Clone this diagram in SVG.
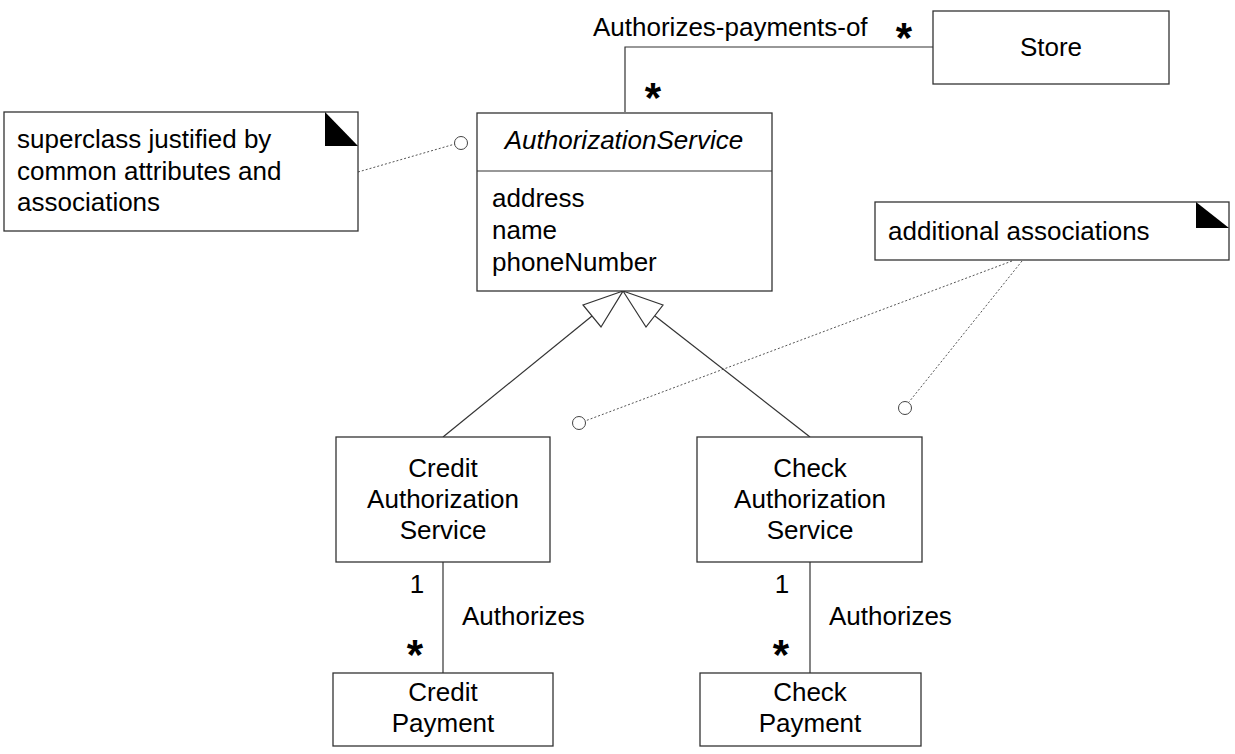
<svg xmlns="http://www.w3.org/2000/svg" width="1235" height="754" viewBox="0 0 1235 754">
<style>
text{font-family:"Liberation Sans",Arial,sans-serif;font-size:26px;fill:#000}
.c{text-anchor:middle}
.it{font-style:italic}
.star{font-size:42px;font-weight:bold;text-anchor:middle}
.box{fill:#fff;stroke:#333;stroke-width:1.3}
.line{fill:none;stroke:#333;stroke-width:1.2}
.dot{fill:none;stroke:#555;stroke-width:1;stroke-dasharray:2,2}
.circ{fill:#fff;stroke:#444;stroke-width:1}
.tri{fill:#fff;stroke:#333;stroke-width:1.2}
.fold{fill:#000}
</style>
<rect width="1235" height="754" fill="#fff"/>
<g id="connectors">
<polyline class="line" points="625,112 625,47 933,47"/>
<line class="line" x1="443" y1="437" x2="592" y2="316"/>
<line class="line" x1="810" y1="437" x2="655" y2="316"/>
<polygon class="tri" points="623,291 583,305 601,327"/>
<polygon class="tri" points="623,291 663,305 646,327"/>
<line class="line" x1="443" y1="562" x2="443" y2="673"/>
<line class="line" x1="810" y1="562" x2="810" y2="673"/>
<line class="dot" x1="358" y1="172" x2="455" y2="144"/>
<circle class="circ" cx="461" cy="143" r="6.5"/>
<line class="dot" x1="1012" y1="261" x2="585" y2="421"/>
<circle class="circ" cx="579" cy="423" r="6.5"/>
<line class="dot" x1="1022" y1="261" x2="909" y2="402"/>
<circle class="circ" cx="905" cy="408" r="6.5"/>
<text x="593" y="36">Authorizes-payments-of</text>
<text class="star" x="904" y="52">*</text>
<text class="star" x="653" y="112">*</text>
<text class="c" x="417" y="593">1</text>
<text class="star" x="415" y="669">*</text>
<text x="462" y="625">Authorizes</text>
<text class="c" x="782" y="593">1</text>
<text class="star" x="781" y="669">*</text>
<text x="829" y="625">Authorizes</text>
</g>
<g id="store">
<rect class="box" x="933" y="11" width="236" height="73"/>
<text class="c" x="1051" y="56">Store</text>
</g>
<g id="authorizationService">
<rect class="box" x="477" y="113" width="295" height="178"/>
<line class="line" x1="477" y1="171" x2="772" y2="171"/>
<text class="c it" x="624" y="149">AuthorizationService</text>
<text x="492" y="207">address</text>
<text x="492" y="239">name</text>
<text x="492" y="271">phoneNumber</text>
</g>
<g id="note-superclass">
<rect class="box" x="4" y="112" width="354" height="119"/>
<polygon class="fold" points="325,112 358,146 325,146"/>
<text x="17" y="148">superclass justified by</text>
<text x="17" y="180">common attributes and</text>
<text x="17" y="211">associations</text>
</g>
<g id="note-additional">
<rect class="box" x="875" y="202" width="354" height="58"/>
<polygon class="fold" points="1196,202 1229,228 1196,228"/>
<text x="888" y="240">additional associations</text>
</g>
<g id="creditAuthorizationService">
<rect class="box" x="336" y="437" width="214" height="125"/>
<text class="c" x="443" y="477">Credit</text>
<text class="c" x="443" y="508">Authorization</text>
<text class="c" x="443" y="539">Service</text>
</g>
<g id="checkAuthorizationService">
<rect class="box" x="697" y="437" width="225" height="125"/>
<text class="c" x="810" y="477">Check</text>
<text class="c" x="810" y="508">Authorization</text>
<text class="c" x="810" y="539">Service</text>
</g>
<g id="creditPayment">
<rect class="box" x="333" y="673" width="220" height="73"/>
<text class="c" x="443" y="701">Credit</text>
<text class="c" x="443" y="732">Payment</text>
</g>
<g id="checkPayment">
<rect class="box" x="700" y="673" width="221" height="73"/>
<text class="c" x="810" y="701">Check</text>
<text class="c" x="810" y="732">Payment</text>
</g>
</svg>
